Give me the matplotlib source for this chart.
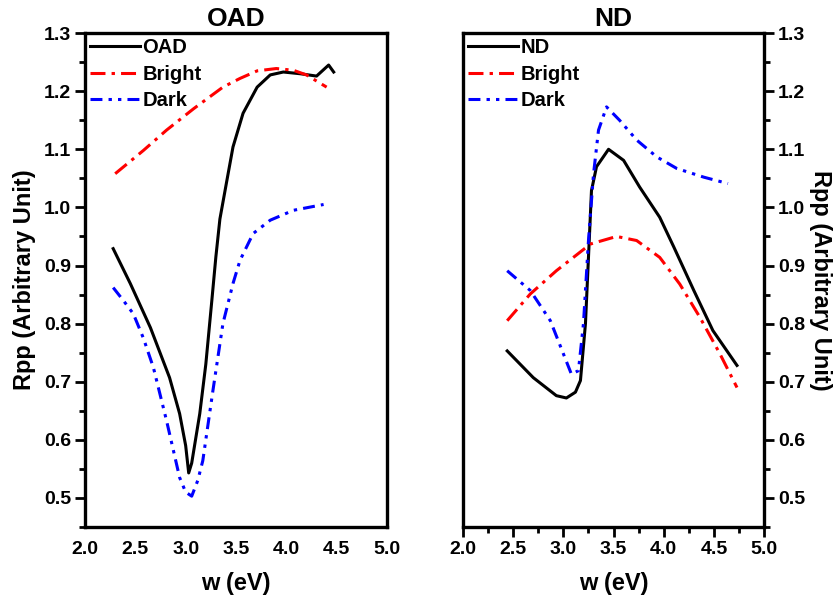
import matplotlib
matplotlib.use("Agg")
import matplotlib.pyplot as plt
from matplotlib.ticker import MultipleLocator, FormatStrFormatter

plt.rcParams['font.family'] = ['Liberation Sans', 'DejaVu Sans']
plt.rcParams['font.weight'] = 'bold'

# ---- OAD panel data ----
oad_w = [2.28, 2.45, 2.65, 2.84, 2.94, 3.00, 3.03, 3.06, 3.14, 3.20, 3.26, 3.30, 3.34, 3.41,
         3.47, 3.57, 3.71, 3.84, 3.97, 4.14, 4.30, 4.42, 4.47]
oad_r = [0.929, 0.869, 0.793, 0.707, 0.645, 0.590, 0.543, 0.560, 0.645, 0.730, 0.840, 0.915,
         0.980, 1.047, 1.104, 1.162, 1.207, 1.228, 1.233, 1.230, 1.226, 1.245, 1.233]

oad_bright_w = [2.30, 2.58, 2.81, 3.08, 3.37, 3.54, 3.71, 3.90, 4.07, 4.20, 4.40]
oad_bright_r = [1.058, 1.098, 1.133, 1.170, 1.207, 1.222, 1.235, 1.239, 1.236, 1.228, 1.207]

oad_dark_w = [2.28, 2.38, 2.48, 2.58, 2.68, 2.81, 2.94, 3.00, 3.06, 3.12, 3.17, 3.27, 3.37,
              3.47, 3.54, 3.67, 3.84, 4.07, 4.37]
oad_dark_r = [0.862, 0.840, 0.817, 0.775, 0.724, 0.633, 0.535, 0.510, 0.503, 0.530, 0.564,
              0.684, 0.800, 0.869, 0.909, 0.955, 0.978, 0.995, 1.005]

# ---- ND panel data ----
nd_w = [2.44, 2.70, 2.93, 3.03, 3.12, 3.17, 3.22, 3.25, 3.28, 3.33, 3.45, 3.60, 3.76, 3.96,
        4.10, 4.30, 4.49, 4.73]
nd_r = [0.753, 0.707, 0.676, 0.672, 0.682, 0.702, 0.800, 0.914, 1.029, 1.070, 1.100, 1.081,
        1.035, 0.983, 0.932, 0.857, 0.788, 0.728]

nd_bright_w = [2.44, 2.67, 2.93, 3.27, 3.53, 3.73, 3.96, 4.16, 4.36, 4.56, 4.73]
nd_bright_r = [0.805, 0.851, 0.891, 0.937, 0.950, 0.943, 0.914, 0.868, 0.811, 0.748, 0.690]

nd_dark_w = [2.44, 2.67, 2.87, 3.00, 3.08, 3.15, 3.20, 3.25, 3.30, 3.35, 3.43, 3.56, 3.73,
             3.93, 4.13, 4.40, 4.64]
nd_dark_r = [0.891, 0.857, 0.805, 0.748, 0.713, 0.719, 0.800, 0.943, 1.057, 1.133, 1.173,
             1.150, 1.116, 1.087, 1.067, 1.052, 1.041]

x_ticks = [2.0, 2.5, 3.0, 3.5, 4.0, 4.5, 5.0]
y_ticks = [0.5, 0.6, 0.7, 0.8, 0.9, 1.0, 1.1, 1.2, 1.3]

LW = 2.2
bright_dash = (4.9, 2.0, 1.1, 2.0)
dark_dash = (3.9, 2.0, 1.1, 2.0, 1.1, 2.0)

fig = plt.figure(figsize=(8.39, 6.06), dpi=100)
ax1 = fig.add_axes([0.1013, 0.1304, 0.360, 0.815])
ax2 = fig.add_axes([0.5519, 0.1304, 0.3588, 0.815])


def style(ax, side):
    ax.set_xlim(2.0, 5.0)
    ax.set_ylim(0.45, 1.3)
    ax.set_xticks(x_ticks)
    ax.set_yticks(y_ticks)
    ax.xaxis.set_major_formatter(FormatStrFormatter('%.1f'))
    ax.yaxis.set_major_formatter(FormatStrFormatter('%.1f'))
    ax.yaxis.set_minor_locator(MultipleLocator(0.05))
    ax.xaxis.set_minor_locator(MultipleLocator(0.25))
    for s in ax.spines.values():
        s.set_linewidth(2.4)
    ax.tick_params(which='major', direction='out', length=7, width=2.0,
                   labelsize=14, pad=3)
    ax.tick_params(which='minor', direction='out', length=4, width=2.0)
    if side == 'left':
        ax.yaxis.set_ticks_position('left')
        ax.tick_params(axis='x', which='both', length=0, pad=10)
    else:
        ax.yaxis.set_ticks_position('right')
        ax.yaxis.set_label_position('right')
    for lab in ax.get_xticklabels() + ax.get_yticklabels():
        lab.set_fontweight('bold')


ax1.plot(oad_w, oad_r, color='black', lw=LW, label='OAD')
ax1.plot(oad_bright_w, oad_bright_r, color='red', lw=LW, dashes=bright_dash, label='Bright')
ax1.plot(oad_dark_w, oad_dark_r, color='blue', lw=LW, dashes=dark_dash, label='Dark')
style(ax1, 'left')
ax1.set_title('OAD', fontsize=19, fontweight='bold', pad=5)
ax1.set_xlabel('w (eV)', fontsize=17, fontweight='bold', labelpad=10)
ax1.set_ylabel('Rpp (Arbitrary Unit)', fontsize=17, fontweight='bold', labelpad=6)

ax2.plot(nd_w, nd_r, color='black', lw=LW, label='ND')
ax2.plot(nd_bright_w, nd_bright_r, color='red', lw=LW, dashes=bright_dash, label='Bright')
ax2.plot(nd_dark_w, nd_dark_r, color='blue', lw=LW, dashes=dark_dash, label='Dark')
style(ax2, 'right')
ax2.set_title('ND', fontsize=19, fontweight='bold', pad=5)
ax2.set_xlabel('w (eV)', fontsize=17, fontweight='bold', labelpad=10)
ax2.set_ylabel('Rpp (Arbitrary Unit)', fontsize=17, fontweight='bold',
               rotation=270, labelpad=19)

for ax in (ax1, ax2):
    leg = ax.legend(loc='upper left', frameon=False, fontsize=14.5,
                    handlelength=2.5, handletextpad=0.1, labelspacing=0.38,
                    borderaxespad=0.1, borderpad=0.15)
    for t in leg.get_texts():
        t.set_fontweight('bold')

fig.savefig('out.png', dpi=100)
